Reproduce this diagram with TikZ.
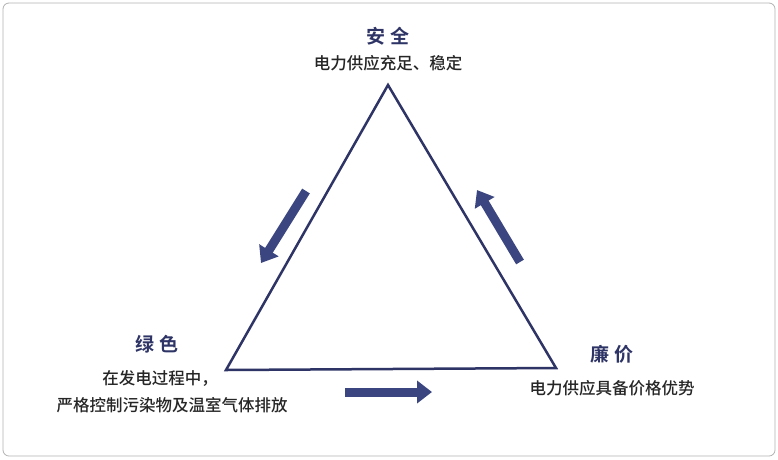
\documentclass[tikz,border=0pt]{standalone}
\usepackage{fontspec}
\newfontfamily\cjk{Noto Sans CJK SC Medium}
\newfontfamily\cjkb{Noto Sans CJK SC Bold}
\usetikzlibrary{arrows.meta}
\definecolor{navy}{HTML}{2E3566}
\definecolor{arr}{HTML}{3B4680}
\tikzset{
  title/.style={font=\cjkb\fontsize{19}{21}\selectfont, text=navy},
  sub/.style={font=\cjk\fontsize{16.5}{18}\selectfont, text=black!85},
  blockarrow/.style={draw=arr, line width=9pt, -{Triangle[width=22pt,length=15pt]}}
}
\begin{document}
\begin{tikzpicture}[x=1pt,y=-1pt]
\useasboundingbox (0,0) rectangle (778,459);
\draw[black!30, fill=white, rounded corners=6pt, line width=0.8pt] (3,3) rectangle (775,456);
\coordinate (A) at (388,85);
\coordinate (L) at (226,370);
\coordinate (R) at (556,368);
\draw[navy, line width=2.5pt, line join=miter] (A) -- (R) -- (L) -- cycle;
\node[title] (t1) at (388,36) {安\hspace{6pt}全};
\node[sub] (s1) at (388,63) {电力供应充足、稳定};
\node[title] (t2) at (157,344) {绿\hspace{6pt}色};
\node[sub] (s2a) at (160,378) {在发电过程中，};
\node[sub] (s2b) at (172,405) {严格控制污染物及温室气体排放};
\node[title] (t3) at (612,354) {廉\hspace{6pt}价};
\node[sub] (s3) at (612,388) {电力供应具备价格优势};
\coordinate (a1s) at (306,191); \coordinate (a1e) at (261,263);
\coordinate (a2s) at (520,262); \coordinate (a2e) at (477,190);
\coordinate (a3s) at (345,392); \coordinate (a3e) at (432,392);
\draw[blockarrow] (a1s) -- (a1e);
\draw[blockarrow] (a2s) -- (a2e);
\draw[blockarrow] (a3s) -- (a3e);
\end{tikzpicture}
\end{document}
